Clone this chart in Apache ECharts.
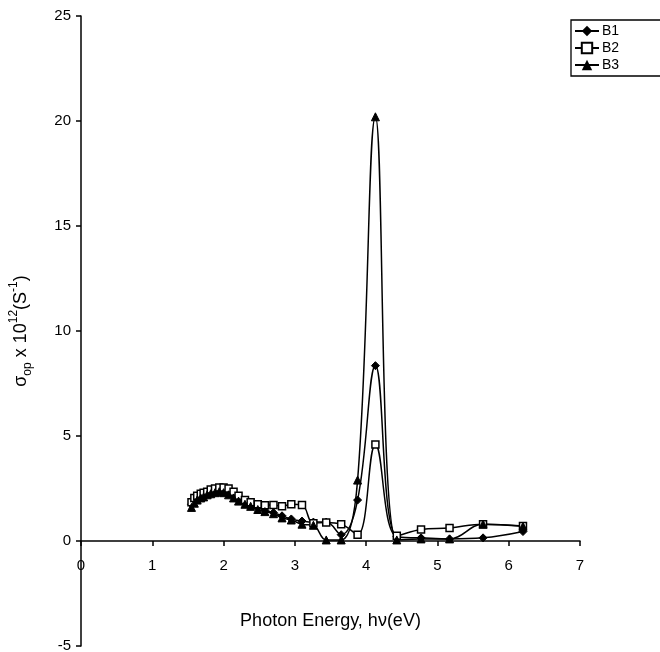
<!DOCTYPE html>
<html>
<head>
<meta charset="utf-8">
<script src="https://cdn.jsdelivr.net/npm/echarts@6/dist/echarts.min.js"></script>
<style>
html,body{margin:0;padding:0;background:#fff;}
#c{width:660px;height:652px;}
</style>
</head>
<body>
<div id="c"></div>
<script>
// Photon energy (eV)
const energy = [1.55,1.59,1.63,1.68,1.72,1.77,1.82,1.88,1.94,2.00,2.07,2.14,2.21,2.30,2.38,2.48,2.58,2.70,2.82,2.95,3.10,3.26,3.44,3.65,3.88,4.13,4.43,4.77,5.17,5.64,6.20];
const b1 = [1.75,1.95,2.1,2.2,2.25,2.3,2.35,2.4,2.45,2.4,2.3,2.15,2.0,1.85,1.7,1.6,1.45,1.35,1.2,1.05,0.95,0.9,0.9,0.3,1.95,8.35,0.2,0.15,0.1,0.15,0.45];
const b2 = [1.85,2.05,2.15,2.25,2.3,2.35,2.45,2.5,2.55,2.55,2.5,2.35,2.15,1.95,1.85,1.75,1.7,1.72,1.65,1.75,1.72,0.85,0.88,0.8,0.3,4.6,0.25,0.55,0.62,0.8,0.72];
const b3 = [1.6,1.8,1.95,2.05,2.1,2.2,2.25,2.3,2.35,2.3,2.2,2.05,1.9,1.75,1.65,1.5,1.4,1.3,1.1,1.0,0.8,0.75,0.05,0.05,2.9,20.2,0.05,0.1,0.1,0.8,0.7];
const seriesNames = ['B1','B2','B3'];
const xTicks = {min:0, max:7, interval:1};
const yTicks = {min:-5, max:25, interval:5};

const pair = (ys) => energy.map((x,i)=>[x, ys[i]]);
const font = 'Liberation Sans, Arial, sans-serif';
const chart = echarts.init(document.getElementById('c'), null, {renderer:'canvas'});
const base = {
  type:'line', smooth:0.4, animation:false,
  lineStyle:{color:'#000', width:1.5},
  emphasis:{disabled:true}
};
chart.setOption({
  animation:false,
  backgroundColor:'#fff',
  grid:{left:81, right:80, top:16, bottom:6, containLabel:false, outerBoundsMode:'none'},
  legend:{
    orient:'vertical', left:571, top:20, data:seriesNames,
    borderColor:'#000', borderWidth:1.3, borderRadius:0,
    padding:[4,60,4,3], itemGap:3, itemWidth:24, itemHeight:13,
    textStyle:{fontFamily:font, fontSize:14, color:'#000', padding:[0,0,0,-2]}
  },
  xAxis:{
    type:'value', min:xTicks.min, max:xTicks.max, interval:xTicks.interval,
    name:'Photon Energy, hν(eV)', nameLocation:'middle', nameGap:-34, nameMoveOverlap:false,
    nameTextStyle:{fontFamily:font, fontSize:18, color:'#000'},
    axisLine:{onZero:true, lineStyle:{color:'#000', width:1.5}},
    axisTick:{show:true, inside:false, length:5, lineStyle:{color:'#000', width:1.5}},
    axisLabel:{fontFamily:font, fontSize:15, color:'#000', margin:-88},
    splitLine:{show:false}
  },
  yAxis:{
    type:'value', min:yTicks.min, max:yTicks.max, interval:yTicks.interval,
    name:'{a|σ}{s|op}{a| x 10}{p|12}{a|(S}{p|-1}{a|)}',
    nameLocation:'middle', nameGap:47, nameRotate:90,
    nameTextStyle:{
      fontFamily:font, color:'#000',
      rich:{
        a:{fontFamily:font, fontSize:18, color:'#000', lineHeight:26, verticalAlign:'middle'},
        s:{fontFamily:font, fontSize:12, color:'#000', lineHeight:26, verticalAlign:'bottom'},
        p:{fontFamily:font, fontSize:12, color:'#000', lineHeight:26, verticalAlign:'top'}
      }
    },
    axisLine:{onZero:false, lineStyle:{color:'#000', width:1.5}},
    axisTick:{show:true, inside:false, length:5, lineStyle:{color:'#000', width:1.5}},
    axisLabel:{fontFamily:font, fontSize:15, color:'#000', margin:10},
    splitLine:{show:false}
  },
  series:[
    Object.assign({}, base, {name:'B1', data:pair(b1), symbol:'diamond', symbolSize:8,
      itemStyle:{color:'#000', borderColor:'#000'}}),
    Object.assign({}, base, {name:'B2', data:pair(b2), symbol:'rect', symbolSize:7,
      itemStyle:{color:'#fff', borderColor:'#000', borderWidth:1.5}}),
    Object.assign({}, base, {name:'B3', data:pair(b3), symbol:'triangle', symbolSize:8,
      itemStyle:{color:'#000', borderColor:'#000'}})
  ]
});
</script>
</body>
</html>
